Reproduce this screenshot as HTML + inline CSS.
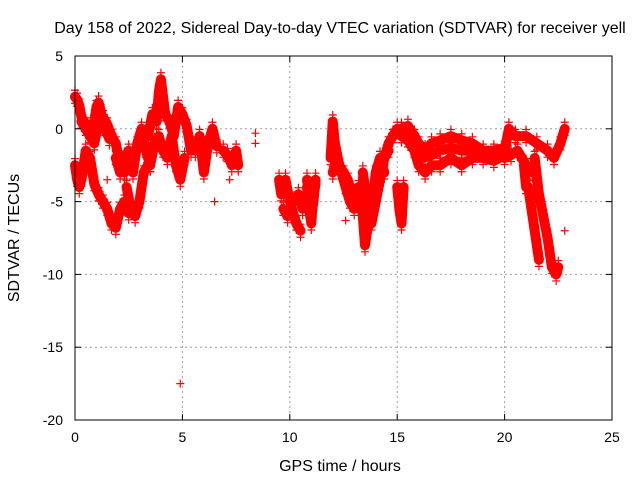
<!DOCTYPE html>
<html><head><meta charset="utf-8"><style>
body{margin:0;background:#fff}
svg{display:block;font-family:"Liberation Sans",sans-serif}
</style></head><body>
<svg id="chart" width="640" height="480">
<text x="340" y="33" text-anchor="middle" font-size="16">Day 158 of 2022, Sidereal Day-to-day VTEC variation (SDTVAR) for receiver yell</text>
<text x="340" y="471" text-anchor="middle" font-size="16">GPS time / hours</text>
<text transform="translate(19,238) rotate(-90)" text-anchor="middle" font-size="16">SDTVAR / TECUs</text>
<g id="grid"></g><g id="marks"></g><g id="axes"></g>
</svg>
<script>
const xTicks=[0,5,10,15,20,25];
const yTicks=[5,0,-5,-10,-15,-20];
const seriesT=[
[0,0.1,0.2,0.3,0.5,0.7,0.9,1.0,1.1,1.2,1.4,1.6],
[0,0.1,0.2,0.3,0.5,0.7,0.9,1.1,1.3,1.5,1.7,1.9,2.1,2.3,2.5],
[0.3,0.5,0.7,0.9,1.1,1.3,1.5,1.7,1.9,2.1,2.3],
[1.9,2.1,2.3,2.5,2.7,2.9,3.1,3.3,3.5],
[2.4,2.6,2.8,3.0,3.2,3.4],
[3.4,3.6,3.8,3.9,4.0,4.2,4.4,4.6,4.8,5.0,5.2,5.4],
[3.5,3.7,3.9,4.1,4.3,4.5,4.7,4.9,5.1],
[5.4,5.6,5.8,6.0,6.2,6.4,6.6],
[6.9,7.1,7.3,7.5,7.6],
[9.5,9.6,9.8,10.0,10.2,10.4,10.6],
[9.7,9.9,10.1,10.3,10.5],
[10.8,10.9,11.0,11.1,11.2],
[10.8,10.9,11.0,11.1,11.2],
[11.9,12.0,12.1,12.3,12.5,12.7,12.9,13.1,13.3],
[12.0,12.2,12.4,12.6,12.8,13.0,13.2],
[13.2,13.4,13.5,13.6,13.8,14.0,14.2,14.4],
[13.4,13.6,13.8,14.0,14.2,14.4,14.6],
[14.4,14.6,14.8,15.0,15.2],
[15.0,15.1,15.2,15.3],
[15.2,15.5,15.8,16.0,16.3,16.6,17.0,17.5,18.0,18.5,19.0,19.5,20.0],
[15.2,15.5,15.8,16.0,16.3,16.6,17.0,17.5,18.0,18.5,19.0,19.5,20.0],
[15.4,15.8,16.2,16.6,17.0,17.5,18.0,18.5,19.0,19.5],
[20.0,20.2,20.5,21.0,21.5,22.0,22.3,22.6,22.8],
[20.0,20.3,20.6,21.0,21.3],
[20.9,21.0,21.1,21.3,21.5,21.6],
[21.4,21.6,21.8,22.0,22.2,22.4,22.5]
];
const seriesV=[
[2.2,2.0,1.6,0.8,0.3,0.0,0.5,1.5,1.8,1.2,0.0,-0.7],
[-2.5,-3.5,-4.0,-3.5,-1.5,-2.0,-3.8,-4.5,-5.0,-5.5,-6.5,-6.8,-5.5,-5.0,-5.8],
[0.5,0,-0.5,-1.0,0.5,0.8,0.3,-0.5,-1.0,-2.5,-3.0],
[-2.0,-3.0,-2.0,-1.5,-3.0,-1.0,0.0,-1.5,-2.5],
[-4,-5.5,-6,-5,-3,-2.5],
[-0.5,1.0,0.5,2.5,3.4,1.0,0.5,-0.5,1.5,1.0,0.2,-1.5],
[-2.5,-1.0,-0.5,-1.5,-2.0,-0.5,-2.5,-3.5,-2.0],
[-1.0,-1.5,-0.5,-3.0,-1.0,0.0,-1.2],
[-1.5,-1.8,-2.5,-1.5,-2.5],
[-3.5,-4.5,-3.5,-5,-5.0,-4.5,-5.5],
[-5.5,-6,-5.5,-6.5,-7.0],
[-3.5,-4.5,-6.0,-5.0,-3.5],
[-4,-5.5,-6.5,-4.5,-3.8],
[-2,0.5,-1.0,-2.5,-3,-3.5,-4.5,-5.0,-5.5],
[-3,-2,-3,-4,-5,-5.5,-4.5],
[-4,-6,-8,-7,-6,-3,-2,-3],
[-3,-5,-6.5,-5,-3.5,-2,-1.5],
[-2,-1.0,-0.5,0.0,-0.5],
[-4,-5.5,-6.5,-4.0],
[0,0.2,-0.5,-1.0,-1.5,-1.0,-0.8,-0.5,-0.8,-1.0,-1.5,-1.5,-1.3],
[-0.5,-0.8,-1.5,-2.5,-3.0,-2.5,-2.5,-2.0,-2.5,-2.0,-2.0,-2.2,-1.8],
[-0.3,-1.0,-2.0,-1.8,-1.5,-1.3,-1.5,-1.5,-1.8,-1.7],
[-1.5,0,-0.5,-0.5,-1.0,-1.5,-2.0,-1.0,0],
[-2,-1.8,-1.5,-2.5,-3.0],
[-2.5,-4,-4,-6,-8,-9],
[-2,-4.5,-6,-7.5,-9.5,-10,-9.5]
];
const outlierT=[4.9,8.4,8.4,6.5,7.2,22.8,12.6,1.5];
const outlierV=[-17.5,-0.3,-1.0,-5,-3.5,-7,-6.3,-3.5];

const X0=75,X1=612,Y0=56,Y1=420;
const sx=t=>X0+(t-0)/(25-0)*(X1-X0);
const sy=v=>Y0+(5-v)/(5-(-20))*(Y1-Y0);
const NS='http://www.w3.org/2000/svg';
const grid=document.getElementById('grid'),marks=document.getElementById('marks'),axes=document.getElementById('axes');
function mk(tag,attrs,parent){const e=document.createElementNS(NS,tag);for(const k in attrs)e.setAttribute(k,attrs[k]);parent.appendChild(e);return e;}

xTicks.forEach(t=>{
  const x=sx(t);
  if(t>0&&t<25){const g=mk('line',{x1:x,y1:Y0,x2:x,y2:Y1,stroke:'#a0a0a0','stroke-dasharray':'2,3'},grid);
  
  }
  mk('line',{x1:x,y1:Y1,x2:x,y2:Y1-6,stroke:'#000'},axes);
  mk('line',{x1:x,y1:Y0,x2:x,y2:Y0+6,stroke:'#000'},axes);
  const l=mk('text',{x:x,y:Y1+22,'text-anchor':'middle','font-size':'14'},axes);l.textContent=t;
  
  
});
yTicks.forEach(v=>{
  const y=sy(v);
  if(v<5&&v>-20){const g=mk('line',{x1:X0,y1:y,x2:X1,y2:y,stroke:'#a0a0a0','stroke-dasharray':'2,3'},grid);
  
  }
  mk('line',{x1:X0,y1:y,x2:X0+6,y2:y,stroke:'#000'},axes);
  mk('line',{x1:X1,y1:y,x2:X1-6,y2:y,stroke:'#000'},axes);
  const l=mk('text',{x:X0-12,y:y+5,'text-anchor':'end','font-size':'14'},axes);l.textContent=v;
  
  
});
const frame=mk('rect',{x:X0,y:Y0,width:X1-X0,height:Y1-Y0,fill:'none',stroke:'#000'},axes);



function plus(t,v,name){
  const x=sx(t),y=sy(v);
  const p=mk('path',{d:`M${x-4},${y}H${x+4}M${x},${y-4}V${y+4}`,stroke:'#f00','stroke-width':'1.2'},marks);
  
  
}
seriesT.forEach((ts,i)=>{
  const vs=seriesV[i];
  const pts=ts.map((t,j)=>sx(t)+','+sy(vs[j])).join(' ');
  const pl=mk('polyline',{points:pts,fill:'none',stroke:'#f00','stroke-width':'10','stroke-linejoin':'round','stroke-linecap':'round'},marks);
  
  
  ts.forEach((t,j)=>{plus(t,vs[j]+0.45,'sdtvar-point');plus(t,vs[j]-0.45,'sdtvar-point');});
});
outlierT.forEach((t,i)=>plus(t,outlierV[i],'sdtvar-outlier'));
</script>
</body></html>
